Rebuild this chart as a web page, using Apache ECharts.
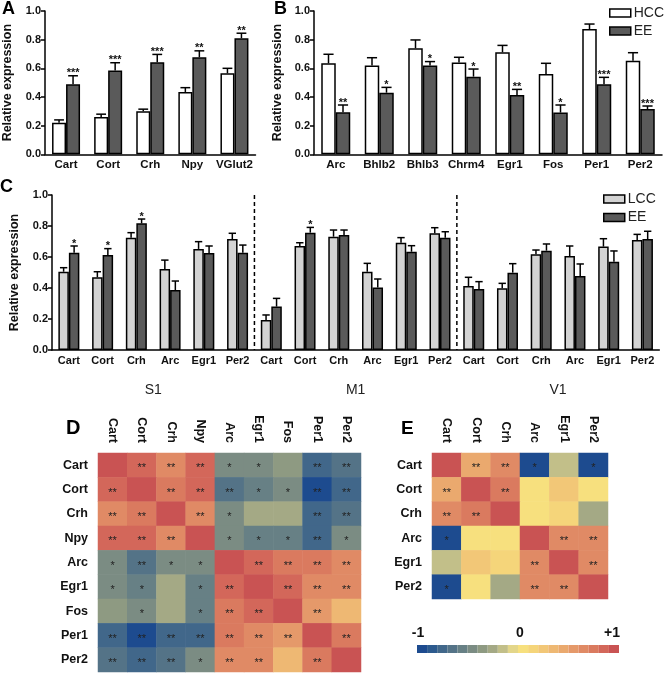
<!DOCTYPE html>
<html><head><meta charset="utf-8">
<script src="https://cdn.jsdelivr.net/npm/echarts@6/dist/echarts.min.js"></script>
<style>html,body{margin:0;padding:0;background:#fff}#c{width:664px;height:673px}</style>
</head><body><div id="c"></div>
<script>
// ---------- Panel A ----------
const catsA = ['Cart','Cort','Crh','Npy','VGlut2'];
const hccA = [0.22, 0.26, 0.30, 0.435, 0.565];
const hccAErr = [0.02, 0.02, 0.015, 0.03, 0.035];
const eeA = [0.488, 0.584, 0.642, 0.677, 0.81];
const eeAErr = [0.06, 0.055, 0.055, 0.045, 0.035];
const starsA = ['***','***','***','**','**'];
// ---------- Panel B ----------
const catsB = ['Arc','Bhlb2','Bhlb3','Chrm4','Egr1','Fos','Per1','Per2'];
const hccB = [0.635, 0.619, 0.74, 0.64, 0.712, 0.56, 0.874, 0.653];
const hccBErr = [0.063, 0.055, 0.058, 0.037, 0.048, 0.075, 0.035, 0.056];
const eeB = [0.293, 0.43, 0.619, 0.542, 0.414, 0.291, 0.488, 0.316];
const eeBErr = [0.051, 0.037, 0.028, 0.053, 0.039, 0.053, 0.049, 0.021];
const starsB = ['**','*','*','*','**','*','***','***'];
// ---------- Panel C ----------
const catsC = ['Cart','Cort','Crh','Arc','Egr1','Per2','Cart','Cort','Crh','Arc','Egr1','Per2','Cart','Cort','Crh','Arc','Egr1','Per2'];
const regionsC = ['S1','M1','V1'];
const regionBoundsC = [6, 12];
const lccC = [0.505,0.469,0.725,0.523,0.652,0.716, 0.194,0.671,0.731,0.505,0.692,0.753, 0.413,0.398,0.617,0.606,0.667,0.71];
const lccCErr = [0.026,0.036,0.032,0.057,0.047,0.037, 0.032,0.021,0.043,0.054,0.033,0.036, 0.056,0.032,0.028,0.065,0.051,0.036];
const eeC = [0.628,0.613,0.817,0.387,0.626,0.628, 0.28,0.757,0.742,0.404,0.634,0.725, 0.394,0.499,0.641,0.477,0.57,0.716];
const eeCErr = [0.043,0.041,0.028,0.058,0.045,0.049, 0.053,0.034,0.032,0.054,0.039,0.038, 0.047,0.058,0.043,0.078,0.069,0.05];
const starsC = ['*','*','*','','','', '','*','','','','', '','','','','',''];
// ---------- Panel D (correlation matrix) ----------
const genesD = ['Cart','Cort','Crh','Npy','Arc','Egr1','Fos','Per1','Per2'];
const corrD = [
  [1, 0.85, 0.65, 0.82, -0.45, -0.45, -0.35, -0.75, -0.62],
  [0.85, 1, 0.72, 0.83, -0.65, -0.55, -0.45, -0.95, -0.72],
  [0.65, 0.72, 1, 0.68, -0.45, -0.28, -0.28, -0.78, -0.68],
  [0.82, 0.83, 0.68, 1, -0.45, -0.52, -0.5, -0.72, -0.45],
  [-0.45, -0.65, -0.45, -0.45, 1, 0.86, 0.78, 0.73, 0.68],
  [-0.45, -0.55, -0.28, -0.52, 0.86, 1, 0.86, 0.7, 0.62],
  [-0.35, -0.45, -0.28, -0.5, 0.78, 0.86, 1, 0.58, 0.35],
  [-0.75, -0.95, -0.78, -0.72, 0.73, 0.7, 0.58, 1, 0.8],
  [-0.62, -0.72, -0.68, -0.45, 0.68, 0.62, 0.35, 0.8, 1]
];
const sigD = [
  ['','**','**','**','*','*','','**','**'],
  ['**','','**','**','**','*','*','**','**'],
  ['**','**','','**','*','','','**','**'],
  ['**','**','**','','*','*','*','**','*'],
  ['*','**','*','*','','**','**','**','**'],
  ['*','*','','*','**','','**','**','**'],
  ['','*','','*','**','**','','**',''],
  ['**','**','**','**','**','**','**','','**'],
  ['**','**','**','*','**','**','','**','']
];
// ---------- Panel E (correlation matrix) ----------
const genesE = ['Cart','Cort','Crh','Arc','Egr1','Per2'];
const corrE = [
  [1, 0.45, 0.65, -0.92, -0.18, -0.95],
  [0.45, 1, 0.72, 0.1, 0.25, 0.02],
  [0.65, 0.72, 1, 0.08, 0.12, -0.28],
  [-0.92, 0.1, 0.08, 1, 0.7, 0.65],
  [-0.18, 0.25, 0.12, 0.7, 1, 0.7],
  [-0.95, 0.02, -0.28, 0.65, 0.7, 1]
];
const sigE = [
  ['','**','**','*','','*'],
  ['**','','**','','',''],
  ['**','**','','','',''],
  ['*','','','','**','**'],
  ['','','','**','','**'],
  ['*','','','**','**','']
];
const colorbarTicks = ['-1','0','+1'];
const palette = ['#1d4b8f','#2c5a8e','#41678a','#547387','#678085','#7b8c83','#8e9a82','#a4a985','#c2bf89','#e3d68a',
                 '#f7e07e','#f5d57a','#f2c777','#eeb873','#eaa96e','#e5996a','#e08a65','#da7a5f','#d3675a','#c95353'];

const FF = '"Liberation Sans", Arial, Helvetica, sans-serif';
const chart = echarts.init(document.getElementById('c'), null, {renderer: 'canvas'});

function errRender(bw, side, stars) {
  return function (params, api) {
    const i = api.value(0), m = api.value(1), e = api.value(2);
    const p = api.coord([i, m]);
    const t = api.coord([i, m + e]);
    const x = p[0] + side * bw / 2;
    const cap = bw * 0.7;
    const ch = [
      {type: 'line', shape: {x1: x, y1: p[1], x2: x, y2: t[1]}, style: {stroke: '#000', lineWidth: 1.5}},
      {type: 'line', shape: {x1: x - cap / 2, y1: t[1], x2: x + cap / 2, y2: t[1]}, style: {stroke: '#000', lineWidth: 1.5}}
    ];
    if (stars && stars[i]) {
      ch.push({type: 'text', x: x, y: t[1] + 3, style: {text: stars[i], fill: '#111', font: 'bold 11px ' + FF, align: 'center', verticalAlign: 'bottom'}});
    }
    return {type: 'group', children: ch};
  };
}
function sepRender(params, api) {
  const idx = api.value(0);
  const top = api.coord([idx, 1.0]);
  const bot = api.coord([idx, 0]);
  const band = api.size([1, 0])[0];
  const x = top[0] - band / 2;
  return {type: 'line', shape: {x1: x, y1: top[1], x2: x, y2: bot[1]}, style: {stroke: '#000', lineWidth: 1.5, lineDash: [4, 3]}};
}

const yVal = (gi) => ({
  type: 'value', gridIndex: gi, min: 0, max: 1, interval: 0.2,
  name: 'Relative expression', nameLocation: 'middle', nameGap: 30, nameRotate: 90,
  nameTextStyle: {fontFamily: FF, fontWeight: 'bold', fontSize: 12.5, color: '#111'},
  axisLine: {show: true, lineStyle: {color: '#000', width: 1.5}},
  axisTick: {show: true, length: 4, lineStyle: {color: '#000', width: 1.5}},
  axisLabel: {fontFamily: FF, fontWeight: 'bold', fontSize: 11, color: '#111', margin: 4, formatter: v => v.toFixed(1)},
  splitLine: {show: false}
});
const xCat = (gi, data, size) => ({
  type: 'category', gridIndex: gi, data: data,
  axisLine: {show: true, lineStyle: {color: '#000', width: 1.5}},
  axisTick: {show: false},
  axisLabel: {fontFamily: FF, fontWeight: 'bold', fontSize: size, color: '#111', margin: 5, interval: 0}
});
const hmX = (gi, data) => ({
  type: 'category', gridIndex: gi, data: data, position: 'top',
  axisLine: {show: false}, axisTick: {show: false}, splitLine: {show: false},
  axisLabel: {fontFamily: FF, fontWeight: 'bold', fontSize: 12.5, color: '#111', rotate: 90, margin: 10, interval: 0}
});
const hmY = (gi, data) => ({
  type: 'category', gridIndex: gi, data: data, inverse: true,
  axisLine: {show: false}, axisTick: {show: false}, splitLine: {show: false},
  axisLabel: {fontFamily: FF, fontWeight: 'bold', fontSize: 12.5, color: '#111', margin: 10, interval: 0}
});
const barStyle = (col) => ({color: col, borderColor: '#000', borderWidth: 1.5});
const errData = (vals, errs) => vals.map((v, i) => [i, v, errs[i]]);
const hmData = (mat) => {
  const out = [];
  mat.forEach((row, r) => row.forEach((v, c) => out.push([c, r, v])));
  return out;
};
const starLabel = (sig) => ({
  show: true, fontSize: 11, color: '#222', fontFamily: FF, offset: [0, 3],
  formatter: p => sig[p.data[1]][p.data[0]]
});

const bwA = 14, bwB = 14.5, bwC = 10.5;
const WHITE = '#ffffff', DARK = '#5a5a5a', LIGHT = '#d3d3d3';

const option = {
  animation: false,
  backgroundColor: '#fff',
  textStyle: {fontFamily: FF},
  grid: [
    {left: 40.5, top: 11, width: 215, height: 143.3},
    {left: 314, top: 11, width: 348, height: 143.3},
    {left: 40.3, top: 195, width: 619, height: 155},
    {left: 98, top: 453, width: 263, height: 219},
    {left: 432, top: 453, width: 176, height: 146}
  ],
  xAxis: [
    xCat(0, catsA, 11.5),
    xCat(1, catsB, 11.5),
    xCat(2, catsC, 11),
    {type: 'category', gridIndex: 2, data: regionsC, position: 'bottom', offset: 25,
     axisLine: {show: false}, axisTick: {show: false},
     axisLabel: {fontFamily: FF, fontSize: 14, color: '#222', margin: 8}},
    hmX(3, genesD),
    hmX(4, genesE)
  ],
  yAxis: [
    Object.assign(yVal(0), {nameGap: 31}),
    Object.assign(yVal(1), {nameGap: 30}),
    Object.assign(yVal(2), {nameGap: 31}),
    hmY(3, genesD),
    hmY(4, genesE)
  ],
  legend: [
    {data: ['HCC', 'EE'], orient: 'vertical', left: 609, top: 6, itemWidth: 21, itemHeight: 8, itemGap: 4,
     icon: 'rect', selectedMode: false, padding: 0,
     itemStyle: {borderColor: '#000', borderWidth: 1.5},
     textStyle: {fontFamily: FF, fontSize: 14, color: '#222', lineHeight: 14, padding: [0, 0, 0, -2]}},
    {data: ['LCC', 'EE'], orient: 'vertical', left: 603, top: 192, itemWidth: 21, itemHeight: 8, itemGap: 4.5,
     icon: 'rect', selectedMode: false, padding: 0,
     itemStyle: {borderColor: '#000', borderWidth: 1.5},
     textStyle: {fontFamily: FF, fontSize: 14, color: '#222', lineHeight: 14, padding: [0, 0, 0, -2]}}
  ],
  visualMap: {
    type: 'piecewise', seriesIndex: [13, 14], orient: 'horizontal',
    left: 417, top: 645, padding: 0, itemWidth: 10.1, itemHeight: 8, itemGap: 0,
    itemSymbol: 'rect', showLabel: false, selectedMode: false, hoverLink: false,
    pieces: palette.map((col, k) => ({min: -1 + k * 0.1, max: -1 + (k + 1) * 0.1, color: col}))
  },
  graphic: [
    {type: 'text', left: 2, top: 0, style: {text: 'A', font: 'bold 18px ' + FF, fill: '#000'}},
    {type: 'text', left: 274, top: 0, style: {text: 'B', font: 'bold 18px ' + FF, fill: '#000'}},
    {type: 'text', left: 0, top: 178, style: {text: 'C', font: 'bold 18px ' + FF, fill: '#000'}},
    {type: 'text', left: 66, top: 418, style: {text: 'D', font: 'bold 20px ' + FF, fill: '#000'}},
    {type: 'text', left: 401, top: 419, style: {text: 'E', font: 'bold 19px ' + FF, fill: '#000'}},
    {type: 'text', x: 418, y: 633, style: {text: colorbarTicks[0], font: 'bold 14px ' + FF, fill: '#111', align: 'center', verticalAlign: 'middle'}},
    {type: 'text', x: 520, y: 633, style: {text: colorbarTicks[1], font: 'bold 14px ' + FF, fill: '#111', align: 'center', verticalAlign: 'middle'}},
    {type: 'text', x: 612, y: 633, style: {text: colorbarTicks[2], font: 'bold 14px ' + FF, fill: '#111', align: 'center', verticalAlign: 'middle'}}
  ],
  series: [
    {name: 'HCC', type: 'bar', xAxisIndex: 0, yAxisIndex: 0, data: hccA, barWidth: bwA, barGap: '0%', itemStyle: barStyle(WHITE)},
    {name: 'EE', type: 'bar', xAxisIndex: 0, yAxisIndex: 0, data: eeA, barWidth: bwA, barGap: '0%', itemStyle: barStyle(DARK)},
    {name: 'HCC', type: 'bar', xAxisIndex: 1, yAxisIndex: 1, data: hccB, barWidth: bwB, barGap: '0%', itemStyle: barStyle(WHITE)},
    {name: 'EE', type: 'bar', xAxisIndex: 1, yAxisIndex: 1, data: eeB, barWidth: bwB, barGap: '0%', itemStyle: barStyle(DARK)},
    {name: 'LCC', type: 'bar', xAxisIndex: 2, yAxisIndex: 2, data: lccC, barWidth: bwC, barGap: '0%', itemStyle: barStyle(LIGHT)},
    {name: 'EE', type: 'bar', xAxisIndex: 2, yAxisIndex: 2, data: eeC, barWidth: bwC, barGap: '0%', itemStyle: barStyle(DARK)},
    {name: 'errA1', type: 'custom', xAxisIndex: 0, yAxisIndex: 0, data: errData(hccA, hccAErr), renderItem: errRender(bwA, -1, null), z: 5},
    {name: 'errA2', type: 'custom', xAxisIndex: 0, yAxisIndex: 0, data: errData(eeA, eeAErr), renderItem: errRender(bwA, 1, starsA), z: 5},
    {name: 'errB1', type: 'custom', xAxisIndex: 1, yAxisIndex: 1, data: errData(hccB, hccBErr), renderItem: errRender(bwB, -1, null), z: 5},
    {name: 'errB2', type: 'custom', xAxisIndex: 1, yAxisIndex: 1, data: errData(eeB, eeBErr), renderItem: errRender(bwB, 1, starsB), z: 5},
    {name: 'errC1', type: 'custom', xAxisIndex: 2, yAxisIndex: 2, data: errData(lccC, lccCErr), renderItem: errRender(bwC, -1, null), z: 5},
    {name: 'errC2', type: 'custom', xAxisIndex: 2, yAxisIndex: 2, data: errData(eeC, eeCErr), renderItem: errRender(bwC, 1, starsC), z: 5},
    {name: 'sep', type: 'custom', xAxisIndex: 2, yAxisIndex: 2, data: regionBoundsC.map(b => [b]), renderItem: sepRender, z: 4},
    {name: 'corrD', type: 'heatmap', xAxisIndex: 4, yAxisIndex: 3, data: hmData(corrD), label: starLabel(sigD),
     itemStyle: {borderWidth: 0}, emphasis: {disabled: true}},
    {name: 'corrE', type: 'heatmap', xAxisIndex: 5, yAxisIndex: 4, data: hmData(corrE), label: starLabel(sigE),
     itemStyle: {borderWidth: 0}, emphasis: {disabled: true}}
  ]
};
chart.setOption(option);
</script>
</body></html>
